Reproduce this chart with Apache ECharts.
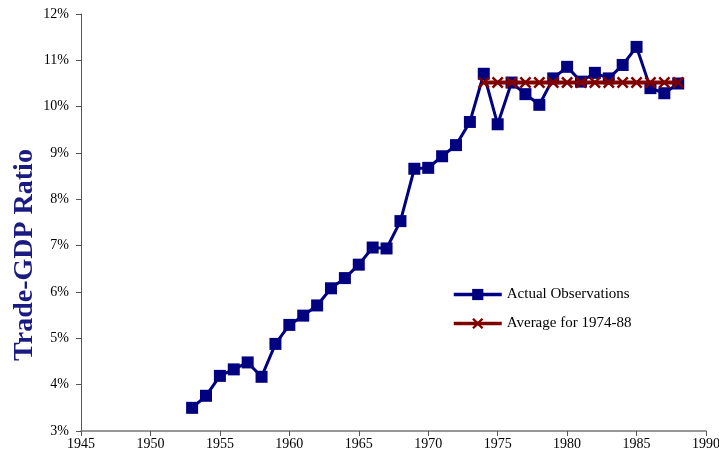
<!DOCTYPE html>
<html>
<head>
<meta charset="utf-8">
<script src="https://cdn.jsdelivr.net/npm/echarts@6/dist/echarts.min.js"></script>
<style>html,body{margin:0;padding:0;background:#fff;}#c{width:719px;height:460px;}</style>
</head>
<body>
<div id="c"></div>
<script>
var years = [1953,1954,1955,1956,1957,1958,1959,1960,1961,1962,1963,1964,1965,1966,1967,1968,1969,1970,1971,1972,1973,1974,1975,1976,1977,1978,1979,1980,1981,1982,1983,1984,1985,1986,1987,1988];
var actual = [3.50,3.76,4.19,4.33,4.48,4.17,4.88,5.29,5.49,5.71,6.08,6.30,6.59,6.96,6.94,7.53,8.66,8.68,8.93,9.17,9.67,10.71,9.62,10.52,10.27,10.04,10.61,10.86,10.54,10.73,10.61,10.90,11.29,10.40,10.29,10.50];
var avgYears = [1974,1975,1976,1977,1978,1979,1980,1981,1982,1983,1984,1985,1986,1987,1988];
var avgValues = [10.52,10.52,10.52,10.52,10.52,10.52,10.52,10.52,10.52,10.52,10.52,10.52,10.52,10.52,10.52];
var seriesNames = ['Actual Observations','Average for 1974-88'];
var yTitle = 'Trade-GDP Ratio';

var chart = echarts.init(document.getElementById('c'));
var font = 'Liberation Serif';
chart.setOption({
  animation: false,
  backgroundColor: '#fff',
  textStyle: {fontFamily: font},
  grid: {left: 81, right: 13, top: 14, bottom: 29, containLabel: false, outerBoundsMode: 'none'},
  graphic: [{
    type: 'text', x: 25, y: 255, rotation: Math.PI / 2,
    style: {text: yTitle, fontFamily: font, fontSize: 28, fontWeight: 'bold', fill: '#1a1a80', align: 'center', verticalAlign: 'middle'}
  }],
  legend: {
    orient: 'vertical', left: 452, top: 287, padding: 0, itemWidth: 48, itemHeight: 14, itemGap: 14,
    textStyle: {fontFamily: font, fontSize: 15, color: '#000'},
    lineStyle: {width: 3.5},
    data: seriesNames
  },
  xAxis: {
    type: 'value', min: 1945, max: 1990, interval: 5,
    axisLine: {lineStyle: {color: '#777', width: 1.5}},
    axisTick: {show: true, length: 5, lineStyle: {color: '#555'}},
    axisLabel: {color: '#000', fontFamily: font, fontSize: 14, margin: 6, formatter: function(v){ return String(v); }},
    splitLine: {show: false}
  },
  yAxis: {
    type: 'value', min: 3, max: 12, interval: 1,
    axisLine: {show: true, lineStyle: {color: '#555', width: 1}},
    axisTick: {show: true, length: 5, lineStyle: {color: '#555'}},
    axisLabel: {color: '#000', fontFamily: font, fontSize: 14, margin: 12, formatter: '{value}%'},
    splitLine: {show: false}
  },
  series: [
    {
      name: seriesNames[0], type: 'line',
      data: years.map(function(y, i){ return [y, actual[i]]; }),
      symbol: 'rect', symbolSize: 12,
      lineStyle: {color: '#000080', width: 3},
      itemStyle: {color: '#000080'},
      z: 2
    },
    {
      name: seriesNames[1], type: 'line',
      data: avgYears.map(function(y, i){ return [y, avgValues[i]]; }),
      symbol: 'path://M0,1.5L1.5,0L5,3.5L8.5,0L10,1.5L6.5,5L10,8.5L8.5,10L5,6.5L1.5,10L0,8.5L3.5,5Z',
      symbolSize: 12,
      lineStyle: {color: '#800000', width: 4},
      itemStyle: {color: '#800000'},
      z: 3
    }
  ]
});
</script>
</body>
</html>
